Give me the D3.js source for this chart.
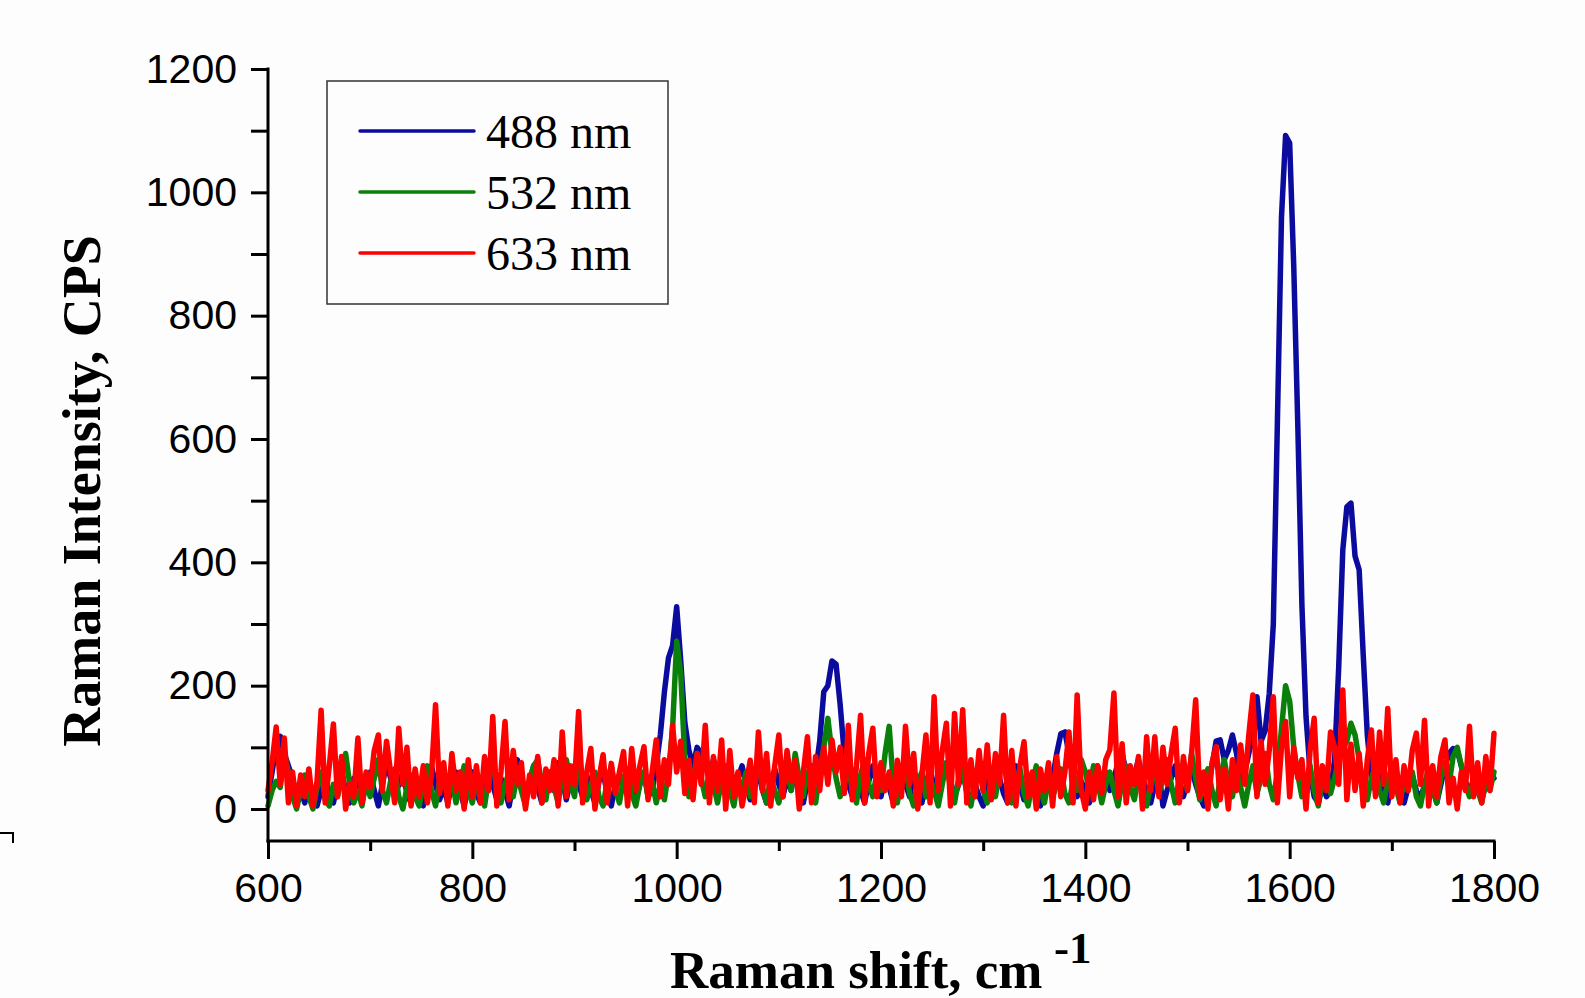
<!DOCTYPE html>
<html>
<head>
<meta charset="utf-8">
<script src="https://cdn.jsdelivr.net/npm/d3@7"></script>
<style>
  html, body { margin: 0; padding: 0; background: #fdfdfd; }
  svg { display: block; }
</style>
</head>
<body>
<svg id="chart" width="1585" height="998"></svg>
<script>
// ---------------- DATA ----------------
const shiftStart = 600;   // cm-1, first sample
const shiftStep = 4;      // cm-1 between samples
const seriesNames = ["488 nm", "532 nm", "633 nm"];
const seriesColors = ["#0b0b9e", "#0a800a", "#ff0000"];
const xTickValues = [600, 800, 1000, 1200, 1400, 1600, 1800];
const xMinorTicks = [700, 900, 1100, 1300, 1500, 1700];
const yTickValues = [0, 200, 400, 600, 800, 1000, 1200];
const yMinorTicks = [100, 300, 500, 700, 900, 1100];

const blue488 = [
  20,60,100,118,90,70,50,20,30,10,40,25,5,30,60,20,10,40,60,30,10,50,35,10,45,
  60,30,5,40,75,50,20,40,60,25,10,45,30,5,50,70,40,15,35,10,40,60,30,5,35,
  60,25,10,45,70,40,15,50,30,5,40,80,55,20,45,70,35,10,40,60,30,75,50,15,45,
  70,40,20,55,30,10,45,60,25,5,40,55,30,60,35,15,40,60,20,30,70,120,190,245,265,
  328,240,140,95,70,100,90,70,50,80,60,30,60,45,20,50,70,40,15,35,60,30,10,40,65,
  40,20,50,30,65,40,10,45,70,60,110,190,200,240,235,170,90,40,20,50,30,10,45,70,40,
  20,50,35,10,45,70,40,20,55,30,10,40,65,35,15,50,75,45,20,40,60,30,10,40,20,
  5,40,60,30,50,25,10,45,70,40,15,35,55,25,5,40,30,50,90,122,125,90,50,20,45,
  30,10,50,70,40,60,30,50,75,90,60,35,55,80,50,30,10,40,60,5,30,50,70,40,20,
  45,65,40,20,5,35,70,110,112,80,95,120,90,40,60,90,120,182,110,127,187,300,628,960,1092,
  1080,880,620,330,150,60,20,10,40,20,30,80,230,420,490,496,410,388,250,120,50,30,55,20,10,
  40,60,30,10,35,55,30,15,40,60,35,10,40,70,90,98,95,70,45,25,50,30,15,40,60,50
];

const green532 = [
  5,30,45,35,90,60,20,0,30,55,20,0,35,60,15,5,40,20,50,90,40,10,30,5,45,
  20,50,80,30,10,45,65,20,0,35,55,20,5,40,70,30,5,45,60,25,50,10,40,70,30,
  10,45,25,5,50,75,35,10,40,60,20,55,30,5,45,70,80,40,15,60,35,10,55,80,45,
  20,90,50,15,40,60,20,5,45,70,30,10,50,65,25,5,40,60,20,45,10,40,15,60,130,
  272,220,80,20,40,90,50,20,60,40,10,45,70,30,5,50,30,60,20,40,75,35,10,50,30,
  10,45,65,30,90,50,20,60,40,10,60,100,147,90,50,20,40,70,30,10,55,80,40,20,60,
  30,90,134,40,10,50,70,25,5,45,60,20,50,30,5,40,75,35,10,50,65,25,5,45,70,
  30,10,50,20,60,80,35,10,45,65,25,5,40,70,30,10,50,20,40,65,25,10,45,30,80,
  60,30,70,45,10,40,60,30,5,45,70,35,15,55,30,5,40,65,25,50,80,40,10,50,70,
  30,90,50,15,45,65,30,5,50,80,40,20,60,35,5,40,70,25,50,90,40,15,60,130,200,
  175,100,55,20,40,70,30,5,45,60,25,50,80,100,110,139,120,80,40,15,50,70,30,10,45,
  70,35,10,50,30,60,20,5,40,65,30,10,50,75,40,85,100,70,40,20,50,30,10,45,30,60
];

const red633 = [
  30,75,133,40,115,10,60,5,55,20,65,5,45,160,10,70,138,20,85,0,40,20,115,10,60,
  35,95,120,30,110,60,10,131,40,100,5,65,20,70,10,55,169,25,75,5,90,30,60,0,80,
  20,70,10,85,30,150,5,60,142,15,95,40,75,0,55,20,85,10,65,30,80,5,125,20,70,
  40,158,10,60,98,0,50,88,10,74,25,60,93,5,98,30,70,101,15,60,112,20,80,40,136,
  60,110,25,79,15,90,40,136,10,85,30,112,0,95,20,60,5,40,79,10,125,30,90,5,70,
  120,20,95,45,80,0,60,117,10,85,30,100,40,112,60,100,25,136,15,70,152,10,90,131,20,
  75,30,60,5,79,20,134,40,90,0,55,120,10,182,30,95,139,5,155,40,161,10,80,20,95,
  30,104,15,90,40,152,10,95,5,70,109,20,60,0,65,30,75,5,85,20,60,125,10,185,30,
  0,60,15,70,25,80,96,188,20,106,10,70,40,85,0,117,30,117,20,100,40,90,131,10,85,
  30,90,177,20,60,0,75,101,15,65,0,80,30,104,40,120,185,20,110,40,95,182,10,100,142,
  20,100,50,80,0,95,147,10,70,30,125,100,40,193,15,105,30,90,5,80,128,20,125,40,163,
  20,80,10,70,30,95,123,40,144,5,70,20,85,112,10,50,0,60,30,134,20,75,10,85,30,123
];

const seriesValues = [blue488, green532, red633];

// ---------------- CHART ----------------
const svg = d3.select("#chart");
const W = 1585, H = 998;
svg.append("rect").attr("width", W).attr("height", H).attr("fill", "#fdfdfd");

const x = d3.scaleLinear().domain([600, 1800]).range([268, 1494]);
const y = d3.scaleLinear().domain([0, 1200]).range([809, 69]);
const xAxisY = 841;   // pixel row of the horizontal axis line

const tickFont = "'Liberation Sans', Arial, sans-serif";
const serifFont = "'Liberation Serif', 'Times New Roman', serif";
const intFmt = d3.format("d");

// data lines
const line = d3.line()
  .x((d, i) => x(shiftStart + i * shiftStep))
  .y(d => y(d));

const g = svg.append("g");
seriesValues.forEach((vals, k) => {
  g.append("path")
    .datum(vals)
    .attr("d", line)
    .attr("fill", "none")
    .attr("stroke", seriesColors[k])
    .attr("stroke-width", 5.5)
    .attr("stroke-linejoin", "round")
    .attr("stroke-linecap", "round");
});

// Y axis
const yAxisG = svg.append("g").attr("transform", `translate(${x(600)},0)`);
yAxisG.call(d3.axisLeft(y).tickValues(yTickValues).tickSize(17).tickPadding(14).tickFormat(intFmt));
yAxisG.append("g").call(d3.axisLeft(y).tickValues(yMinorTicks).tickSize(17).tickFormat(""));
yAxisG.selectAll(".domain").remove();
yAxisG.selectAll("line").attr("stroke", "#000").attr("stroke-width", 3);
yAxisG.selectAll("text")
  .attr("font-family", tickFont).attr("font-size", 41).attr("fill", "#000");
yAxisG.append("line")
  .attr("x1", 0).attr("x2", 0)
  .attr("y1", y(1200) - 1.5).attr("y2", xAxisY + 1.5)
  .attr("stroke", "#000").attr("stroke-width", 3);

// X axis
const xAxisG = svg.append("g").attr("transform", `translate(0,${xAxisY})`);
xAxisG.call(d3.axisBottom(x).tickValues(xTickValues).tickSize(18).tickPadding(14).tickFormat(intFmt));
xAxisG.append("g").call(d3.axisBottom(x).tickValues(xMinorTicks).tickSize(10).tickFormat(""));
xAxisG.selectAll(".domain").remove();
xAxisG.selectAll("line").attr("stroke", "#000").attr("stroke-width", 3);
xAxisG.selectAll("text")
  .attr("font-family", tickFont).attr("font-size", 41).attr("fill", "#000");
xAxisG.append("line")
  .attr("x1", x(600) - 1.5).attr("x2", x(1800) + 1.5)
  .attr("y1", 0).attr("y2", 0)
  .attr("stroke", "#000").attr("stroke-width", 3);

// Axis titles
svg.append("text")
  .attr("transform", "translate(100,491) rotate(-90)")
  .attr("text-anchor", "middle")
  .attr("font-family", serifFont).attr("font-weight", "bold")
  .attr("font-size", 54).attr("fill", "#000")
  .text("Raman Intensity, CPS");

svg.append("text")
  .attr("x", 670).attr("y", 988)
  .attr("font-family", serifFont).attr("font-weight", "bold")
  .attr("font-size", 53).attr("fill", "#000")
  .text("Raman shift, cm");
svg.append("text")
  .attr("x", 1054).attr("y", 963)
  .attr("font-family", serifFont).attr("font-weight", "bold")
  .attr("font-size", 45).attr("fill", "#000")
  .text("-1");

// Legend
const leg = svg.append("g");
leg.append("rect")
  .attr("x", 327).attr("y", 81).attr("width", 341).attr("height", 223)
  .attr("fill", "none").attr("stroke", "#333").attr("stroke-width", 1.5);
seriesNames.forEach((name, k) => {
  const ly = 131 + k * 61;
  leg.append("line")
    .attr("x1", 360).attr("x2", 474).attr("y1", ly).attr("y2", ly)
    .attr("stroke", seriesColors[k]).attr("stroke-width", 3.5)
    .attr("stroke-linecap", "round");
  leg.append("text")
    .attr("x", 486).attr("y", ly + 17)
    .attr("font-family", serifFont).attr("font-size", 48).attr("fill", "#000")
    .text(name);
});

// small corner mark at left edge
svg.append("path")
  .attr("d", "M0,833 H13 V843")
  .attr("fill", "none").attr("stroke", "#000").attr("stroke-width", 2);
</script>
</body>
</html>
